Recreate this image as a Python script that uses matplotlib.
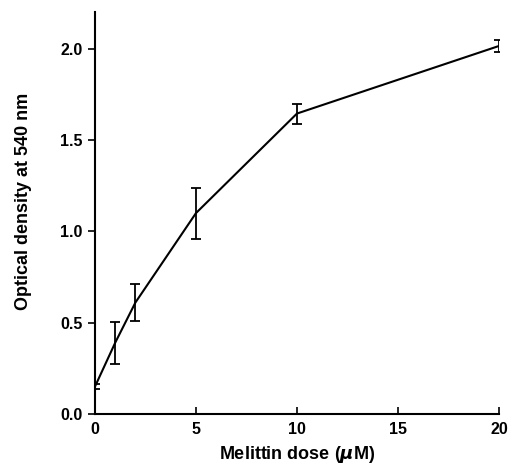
import matplotlib
matplotlib.use("Agg")
import matplotlib.pyplot as plt

dose = [0, 1, 2, 5, 10, 20]
od = [0.15, 0.39, 0.61, 1.10, 1.645, 2.015]
err = [0.012, 0.115, 0.10, 0.14, 0.055, 0.035]

xticks = [0, 5, 10, 15, 20]
yticks = [0.0, 0.5, 1.0, 1.5, 2.0]

plt.rcParams['font.family'] = ['Liberation Sans', 'DejaVu Sans']
plt.rcParams['font.weight'] = 'bold'

fig = plt.figure(figsize=(5.12, 4.69), dpi=100)
ax = fig.add_axes([0.1855, 0.1173, 0.789, 0.8567])
ax.errorbar(dose, od, yerr=err, color='black', lw=1.5, capsize=3.5,
            elinewidth=1.3, capthick=1.3)
ax.set_xlim(0, 20)
ax.set_ylim(0, 2.2)
ax.set_xticks(xticks)
ax.set_xticklabels([str(t) for t in xticks])
ax.set_yticks(yticks)
ax.set_yticklabels([f"{t:.1f}" for t in yticks])
ax.spines['top'].set_visible(False)
ax.spines['right'].set_visible(False)
ax.spines['left'].set_linewidth(1.5)
ax.spines['bottom'].set_linewidth(1.5)
ax.tick_params(axis='x', direction='in', length=5, width=1.2, labelsize=11.5, pad=6)
ax.tick_params(axis='y', direction='out', length=5, width=1.2, labelsize=11.5, pad=4)
for lab in ax.get_xticklabels() + ax.get_yticklabels():
    lab.set_fontweight('bold')
ax.set_xlabel(r'Melittin dose ($\mu$M)', fontsize=13, fontweight='bold', labelpad=5)
ax.set_ylabel('Optical density at 540 nm', fontsize=13, fontweight='bold')
ax.yaxis.set_label_coords(-0.155, 0.53)
fig.savefig('out.png', dpi=100)
